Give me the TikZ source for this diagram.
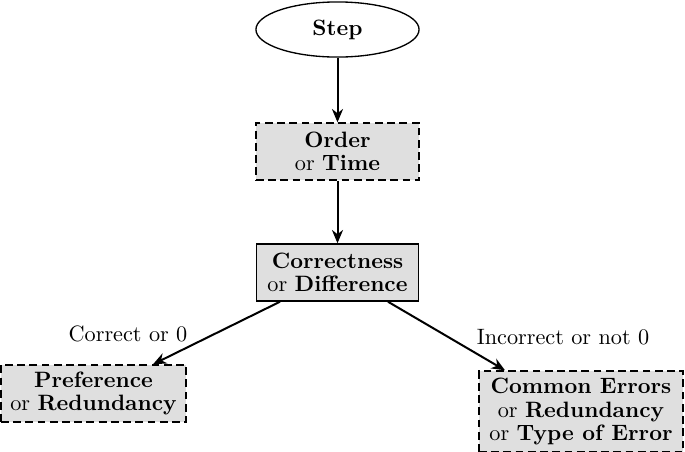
\documentclass[tikz,border=0pt]{standalone}
\usetikzlibrary{shapes.geometric,arrows.meta,calc}
\begin{document}
\begin{tikzpicture}[x=0.45pt,y=-0.45pt,
  box/.style={rectangle,draw,fill=gray!25,align=center,line width=0.6pt,inner sep=2pt,minimum height=25.7pt,font={\fontsize{10}{10.4}\selectfont}},
  dbox/.style={box,dash pattern=on 3.5pt off 2pt},
  arr/.style={-{Stealth[length=6pt,width=5pt]},line width=0.9pt},
  lbl/.style={inner sep=0pt}]
\useasboundingbox (0,0) rectangle (685,452);
\node[ellipse,draw,line width=0.6pt,minimum width=73.4pt,minimum height=24.8pt,inner sep=0pt] (step) at (337.5,29.5) {\textbf{Step}};
\node[dbox,minimum width=73.4pt] (order) at (337.5,151.5) {\textbf{Order}\\or \textbf{Time}};
\node[box,minimum width=73pt] (corr) at (337.5,272.5) {\textbf{Correctness}\\or \textbf{Difference}};
\node[dbox,minimum width=83.3pt] (pref) at (93.5,393.5) {\textbf{Preference}\\or \textbf{Redundancy}};
\node[dbox,minimum width=91.8pt,minimum height=36.5pt] (common) at (581,411.5) {\textbf{Common Errors}\\or \textbf{Redundancy}\\or \textbf{Type of Error}};
\node[lbl] (lc) at (128,334) {Correct or 0};
\node[lbl] (li) at (563,337) {Incorrect or not 0};
\draw[arr] (step) -- (order);
\draw[arr] (order) -- (corr);
\draw[arr] ($(corr.south)+(-57.5,0)$) -- ($(pref.north)+(59.5,0)$);
\draw[arr] ($(corr.south)+(50.5,0)$) -- ($(common.north)+(-76,0)$);
\end{tikzpicture}
\end{document}
